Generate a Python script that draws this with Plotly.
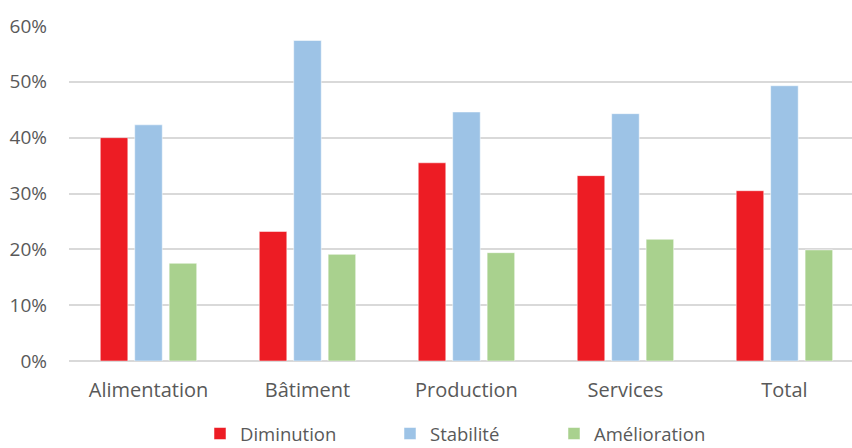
import plotly.graph_objects as go

categories = ["Alimentation", "Bâtiment", "Production", "Services", "Total"]
diminution = [0.40, 0.232, 0.355, 0.332, 0.305]
stabilite = [0.423, 0.574, 0.446, 0.443, 0.493]
amelioration = [0.175, 0.191, 0.194, 0.218, 0.199]
y_ticks = [0, 0.1, 0.2, 0.3, 0.4, 0.5, 0.6]

FONT = "Open Sans"
TEXT = "#595959"

series = [
    ("Diminution", diminution, "#ED1C24", "legend2"),
    ("Stabilité", stabilite, "#9DC3E6", "legend3"),
    ("Amélioration", amelioration, "#A9D18E", "legend4"),
]

fig = go.Figure()
for name, vals, color, leg in series:
    fig.add_trace(go.Bar(
        x=categories, y=vals, name=name, legend=leg,
        marker=dict(color=color, line=dict(color="rgba(255,255,255,0.5)", width=1)),
    ))

W, H = 852, 448
ml, mr, mt, mb = 69, 0, 26, 87
pw = W - ml - mr
ph = H - mt - mb

def px_x(p):
    return (p - ml) / pw

def px_y(p):
    return (H - mb - p) / ph

legend_common = dict(
    orientation="h", yanchor="middle", y=px_y(434), xanchor="left",
    font=dict(family=FONT, size=18.5, color=TEXT), bgcolor="rgba(0,0,0,0)",
    itemwidth=30,
)

fig.update_layout(
    width=W, height=H,
    margin=dict(l=ml, r=mr, t=mt, b=mb, autoexpand=False),
    paper_bgcolor="white", plot_bgcolor="white",
    barmode="group", bargap=0.35, bargroupgap=0.2,
    font=dict(family=FONT, size=19, color=TEXT),
    showlegend=True,
    legend2=dict(x=px_x(200), **legend_common),
    legend3=dict(x=px_x(390), **legend_common),
    legend4=dict(x=px_x(554), **legend_common),
    xaxis=dict(
        range=[-0.5, 4.425], showgrid=False, showline=False, ticks="",
        ticklabelstandoff=15,
        tickfont=dict(family=FONT, size=20, color=TEXT),
    ),
    yaxis=dict(
        range=[0, 0.6], tickvals=y_ticks, tickformat=".0%",
        showgrid=True, gridcolor="#D9D9D9", gridwidth=1.5,
        zeroline=True, zerolinecolor="#D9D9D9", zerolinewidth=1.5,
        ticks="", ticklabelstandoff=21,
        tickfont=dict(family=FONT, size=19, color=TEXT),
    ),
)

fig.write_html("out.html")
